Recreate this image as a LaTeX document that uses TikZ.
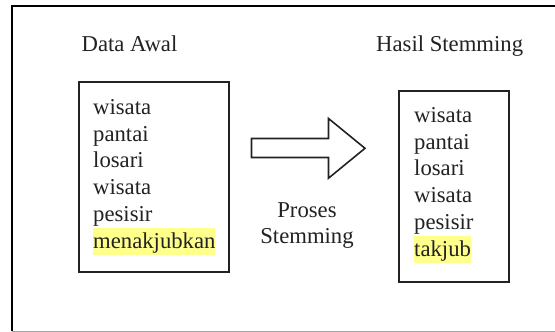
\documentclass[tikz,border=0pt]{standalone}
\usepackage{fontspec}
\setmainfont{Liberation Serif}
\begin{document}
\begin{tikzpicture}[x=1pt,y=-1pt,
  every node/.style={inner sep=0pt, text=ink},
  word/.style={anchor=base west, font=\fontsize{22.7}{26.7}\selectfont},
  hlword/.style={word, fill=hl, text height=20pt, text depth=7pt},
  caption/.style={anchor=base, font=\fontsize{22.7}{26.7}\selectfont},
  listbox/.style={draw=ink, line width=2pt},
  blockarrow/.style={draw=ink, line width=1.6pt, line join=miter, fill=white}]
\definecolor{ink}{HTML}{222222}
\definecolor{hl}{RGB}{255,255,140}
\useasboundingbox (0,0) rectangle (555,332);
\clip (0,0) rectangle (555,332);

% outer frame (right edge runs off the page)
\draw[line width=2pt, black] (11.5,331) -- (11.5,5.5) -- (560,5.5);
\draw[line width=1pt, black!35] (11.5,331.5) -- (560,331.5);

% headings
\node[word] (hInput) at (81.5,51) {Data Awal};
\node[word] (hOutput) at (376,51) {Hasil Stemming};

% input list
\draw[listbox] (78.5,81.5) rectangle (228.5,271.5);
\node[word] (a1) at (93,114.5) {wisata};
\node[word] (a2) at (93,141.2) {pantai};
\node[word] (a3) at (93,167.9) {losari};
\node[word] (a4) at (93,194.6) {wisata};
\node[word] (a5) at (93,221.3) {pesisir};
\node[hlword] (a6) at (93,248) {menakjubkan};

% output list
\draw[listbox] (399,91) rectangle (508.5,281.5);
\node[word] (b1) at (414,122.5) {wisata};
\node[word] (b2) at (414,149.2) {pantai};
\node[word] (b3) at (414,175.9) {losari};
\node[word] (b4) at (414,202.6) {wisata};
\node[word] (b5) at (414,229.3) {pesisir};
\node[hlword] (b6) at (414,256) {takjub};

% process arrow
\draw[blockarrow] (251.5,138.5) -- (328.5,138.5) -- (328.5,118.5) -- (365,148.3)
  -- (328.5,178.2) -- (328.5,157.5) -- (251.5,157.5) -- cycle;
\node[caption] (p1) at (307,217) {Proses};
\node[caption] (p2) at (307,243.5) {Stemming};
\end{tikzpicture}
\end{document}
